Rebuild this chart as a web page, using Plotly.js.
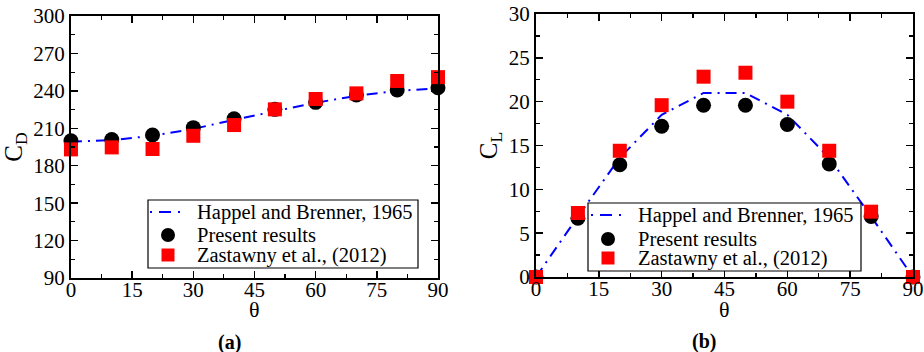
<!DOCTYPE html>
<html>
<head>
<meta charset="utf-8">
<script src="https://cdn.plot.ly/plotly-3.0.1.min.js"></script>
<style>html,body{margin:0;padding:0;background:#fff}</style>
</head>
<body>
<div id="chart" style="width:924px;height:352px"></div>
<script>
// Incidence angle (degrees)
const theta = [0, 10, 20, 30, 40, 50, 60, 70, 80, 90];

// Drag coefficient
const cdHappel   = [199.2, 200.5, 204, 209.5, 216.8, 223.5, 230.5, 236, 240, 242];
const cdPresent  = [200, 201, 204.6, 210.5, 217.7, 225.2, 230.8, 236.7, 240.7, 242.5];
const cdZastawny = [193.1, 194.7, 193.4, 204, 212.6, 225.2, 233.5, 238, 247.9, 251];

// Lift coefficient
const clHappel   = [0, 6.9, 13.6, 18.5, 21, 21, 18.5, 13.6, 6.9, 0];
const clPresent  = [0, 6.7, 12.8, 17.2, 19.6, 19.6, 17.4, 12.9, 6.9, 0];
const clZastawny = [0, 7.3, 14.4, 19.6, 22.85, 23.3, 20.0, 14.4, 7.45, 0];

const thetaTicks = [0, 15, 30, 45, 60, 75, 90];
const names = ['Happel and Brenner, 1965', 'Present results', 'Zastawny et al., (2012)'];

const W = 924, H = 352;
const FONT = 'Liberation Serif';
const BLUE = '#0000ff', BLACK = '#000000', RED = '#ff0000';
const dashDot = '11px,6px,2px,6px';

function series(yvals, idx, xa, ya) {
  const base = {x: theta, y: yvals, xaxis: xa, yaxis: ya,
                name: names[idx], showlegend: false, cliponaxis: false};
  if (idx === 0) return Object.assign(base, {mode: 'lines',
      line: {color: BLUE, width: 2, dash: dashDot}});
  if (idx === 1) return Object.assign(base, {mode: 'markers',
      marker: {symbol: 'circle', size: 15, color: BLACK}});
  return Object.assign(base, {mode: 'markers',
      marker: {symbol: 'square', size: 14, color: RED}});
}

const traces = [
  series(cdHappel, 0, 'x', 'y'),
  series(cdPresent, 1, 'x', 'y'),
  series(cdZastawny, 2, 'x', 'y'),
  series(clHappel, 0, 'x2', 'y2'),
  series(clPresent, 1, 'x2', 'y2'),
  series(clZastawny, 2, 'x2', 'y2')
];

function xAxis(domain, anchor) {
  return {
    domain: domain, anchor: anchor, range: [0, 90],
    tickvals: thetaTicks, ticks: 'inside', ticklen: 7, tickwidth: 1.5, tickcolor: '#000',
    minor: {dtick: 7.5, ticks: 'inside', ticklen: 4, tickwidth: 1.2, tickcolor: '#000', showgrid: false},
    showline: true, linewidth: 2, linecolor: '#000', mirror: 'ticks',
    showgrid: false, zeroline: false, ticklabelstandoff: -8,
    tickfont: {family: FONT, size: 21, color: '#000'}
  };
}
function yAxis(domain, anchor, range, dtick, title) {
  return {
    domain: domain, anchor: anchor, range: range, dtick: dtick,
    ticks: 'inside', ticklen: 7, tickwidth: 1.5, tickcolor: '#000',
    minor: {dtick: dtick / 2, ticks: 'inside', ticklen: 4, tickwidth: 1.2, tickcolor: '#000', showgrid: false},
    showline: true, linewidth: 2, linecolor: '#000', mirror: 'ticks',
    showgrid: false, zeroline: false,
    tickfont: {family: FONT, size: 21, color: '#000'},
    title: {text: title, font: {family: FONT, size: 25, color: '#000'}, standoff: 4}
  };
}

// pixel -> paper helpers
const px = v => v / W;
const py = v => 1 - v / H;

// Legend boxes: box edges, symbol column, text column, row centres (pixels)
const legendBoxes = [
  {x0: 148, x1: 418, y0: 200, y1: 268, lineX: [150, 183], symX: 168, textX: 195, rows: [212, 235, 255]},
  {x0: 588, x1: 861, y0: 203, y1: 271, lineX: [591, 624], symX: 608, textX: 636, rows: [215, 239, 258]}
];

const shapes = [];
const annotations = [];
legendBoxes.forEach(b => {
  shapes.push({type: 'rect', xref: 'paper', yref: 'paper', layer: 'above',
    x0: px(b.x0), x1: px(b.x1), y0: py(b.y1), y1: py(b.y0),
    fillcolor: '#ffffff', line: {color: '#000', width: 1.2}});
  shapes.push({type: 'line', xref: 'paper', yref: 'paper', layer: 'above',
    x0: px(b.lineX[0]), x1: px(b.lineX[1]), y0: py(b.rows[0]), y1: py(b.rows[0]),
    line: {color: BLUE, width: 2, dash: '2px,7px,12px,7px,2px,20px'}});
  shapes.push({type: 'circle', xref: 'paper', yref: 'paper', layer: 'above',
    x0: px(b.symX - 7), x1: px(b.symX + 7), y0: py(b.rows[1] + 7), y1: py(b.rows[1] - 7),
    fillcolor: BLACK, line: {width: 0}});
  shapes.push({type: 'rect', xref: 'paper', yref: 'paper', layer: 'above',
    x0: px(b.symX - 6.5), x1: px(b.symX + 6.5), y0: py(b.rows[2] + 6.5), y1: py(b.rows[2] - 6.5),
    fillcolor: RED, line: {width: 0}});
  names.forEach((n, i) => annotations.push({
    text: n, x: px(b.textX), y: py(b.rows[i]), xref: 'paper', yref: 'paper',
    xanchor: 'left', yanchor: 'middle', showarrow: false,
    font: {family: FONT, size: 20.5, color: '#000'}
  }));
});

// axis symbols and sub-figure captions (pixel positions)
const labels = [
  {text: 'θ', x: 254, y: 309, size: 22, bold: false},
  {text: 'θ', x: 724, y: 309, size: 22, bold: false},
  {text: '(a)', x: 229, y: 342, size: 20, bold: true},
  {text: '(b)', x: 704, y: 341, size: 20, bold: true}
];
labels.forEach(l => annotations.push({
  text: l.bold ? '<b>' + l.text + '</b>' : l.text,
  x: px(l.x), y: py(l.y), xref: 'paper', yref: 'paper',
  xanchor: 'center', yanchor: 'middle', showarrow: false,
  font: {family: FONT, size: l.size, color: '#000'}
}));

const layout = {
  width: W, height: H,
  margin: {l: 0, r: 0, t: 0, b: 0},
  paper_bgcolor: '#fff', plot_bgcolor: '#fff',
  font: {family: FONT, color: '#000'},
  showlegend: false,
  xaxis: xAxis([0.0768, 0.474], 'y'),
  yaxis: yAxis([0.2102, 0.9545], 'x', [90, 300], 30, 'C<sub>D</sub>'),
  xaxis2: xAxis([0.5801, 0.9881], 'y2'),
  yaxis2: yAxis([0.2131, 0.9602], 'x2', [0, 30], 5, 'C<sub>L</sub>'),
  shapes: shapes,
  annotations: annotations
};

Plotly.newPlot('chart', traces, layout, {displayModeBar: false, staticPlot: true});
</script>
</body>
</html>
